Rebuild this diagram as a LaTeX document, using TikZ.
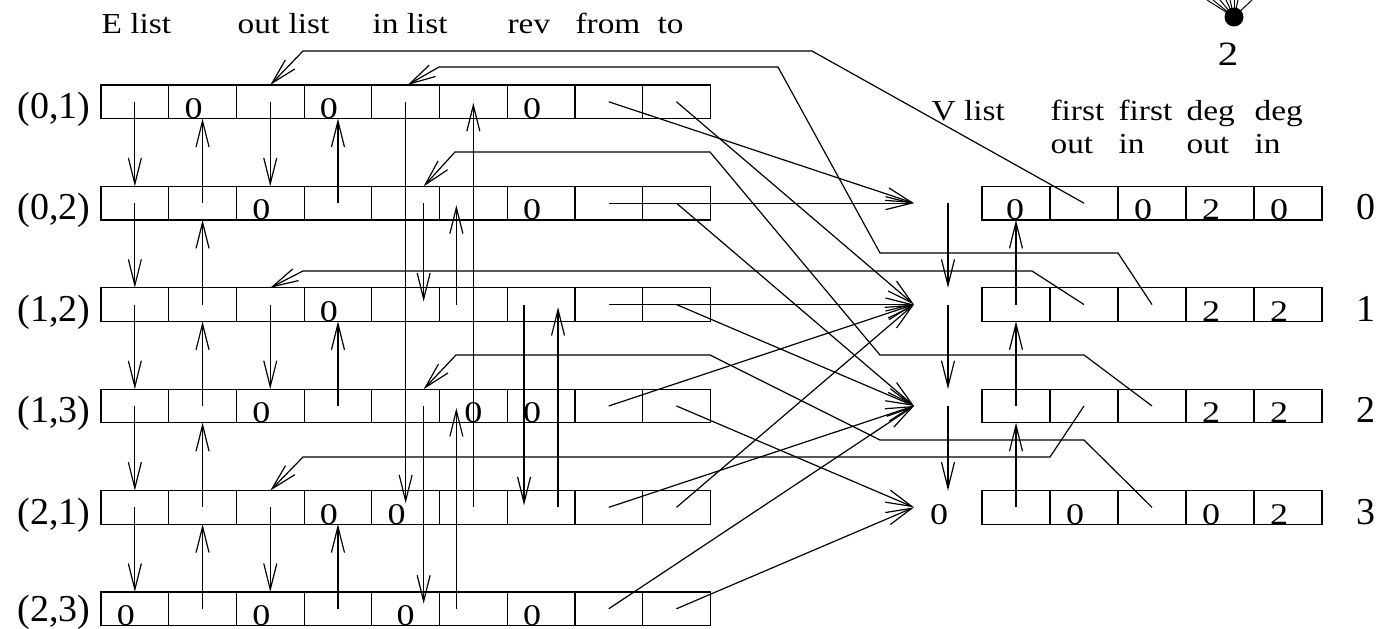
\documentclass[tikz,border=0pt]{standalone}
\usepackage{fontspec}
\setmainfont{Liberation Serif}
\newfontfamily\hdfam{Liberation Serif}[FakeStretch=1.15]
\newfontfamily\dgfam{Liberation Serif}[FakeStretch=1.2]
\usetikzlibrary{arrows.meta}
\newcommand\myhd{\hdfam\fontsize{29}{33}\selectfont}
\newcommand\mydg{\dgfam\fontsize{30}{34}\selectfont}
\newcommand\mybig{\dgfam\fontsize{34}{38}\selectfont}
\newcommand\mylb{\fontsize{38}{42}\selectfont}
\tikzset{
 cell/.style={draw, minimum width=67.7pt, minimum height=33.5pt, inner sep=0pt, outer sep=0pt},
 vcell/.style={draw, minimum width=68pt, minimum height=33.5pt, inner sep=0pt, outer sep=0pt},
 ghost/.style={minimum width=68pt, minimum height=33.5pt, inner sep=0pt, outer sep=0pt},
 ptr/.style={-{Straight Barb[length=26pt,width=13pt]}},
 dig/.style={font=\mydg, anchor=base, inner sep=0pt, xshift=-9pt},
 hdr/.style={font=\myhd, anchor=base west, inner sep=0pt},
 lab/.style={font=\mylb, anchor=base east, inner sep=0pt},
 rlab/.style={font=\mylb, anchor=base, inner sep=0pt}
}
\begin{document}
\begin{tikzpicture}[x=1pt,y=-1pt,line width=1.2pt]
\useasboundingbox (0,0) rectangle (1379,629);
% headers
\node[hdr] (hE) at (101,34) {E list};
\node[hdr] (hO) at (237,34) {out list};
\node[hdr] (hI) at (372,34) {in list};
\node[hdr] (hR) at (507,34) {rev};
\node[hdr] (hF) at (575,34) {from};
\node[hdr] (hT) at (657,34) {to};
\node[hdr] (hV) at (931,120) {V list};
\node[hdr] (hfo) at (1050,120) {first};
\node[hdr] (hfo2) at (1050,153) {out};
\node[hdr] (hfi) at (1118,120) {first};
\node[hdr] (hfi2) at (1118,153) {in};
\node[hdr] (hdo) at (1186,120) {deg};
\node[hdr] (hdo2) at (1186,153) {out};
\node[hdr] (hdi) at (1254,120) {deg};
\node[hdr] (hdi2) at (1254,153) {in};
% E list cells
\foreach \r in {0,...,5}
  \foreach \k in {0,...,8}
    \node[cell] (e\r\k) at ({134.85+67.7*\k},{101.75+101.4*\r}) {};
% row labels
\foreach \r/\t in {0/{(0,1)},1/{(0,2)},2/{(1,2)},3/{(1,3)},4/{(2,1)}}
  \node[lab] (l\r) at (91,{118.5+101.4*\r}) {\t};
\node[lab] (l5) at (91,621) {(2,3)};
% V list cells
\foreach \v in {0,...,3}{
  \node[ghost] (v\v0) at (948,{203.15+101.4*\v}) {};
  \foreach \k in {1,...,5}
    \node[vcell] (v\v\k) at ({948+68*\k},{203.15+101.4*\v}) {};
  \node[rlab] (r\v) at (1366,{219.9+101.4*\v}) {\v};
}
% digits in E cells
\foreach \c in {01,03,06,12,16,23,32,36,43,44,50,52,56}
  \node[dig] (d\c) at (e\c.south) {0};
\node[dig,xshift=9pt] (d35) at (e35.south) {0};
\node[dig,xshift=9pt] (d54) at (e54.south) {0};
% digits in V cells
\node[dig,xshift=8pt] (w01) at (v01.south) {0};
\foreach \c/\t in {03/0,04/2,05/0,14/2,15/2,24/2,25/2,30/0,32/0,34/0,35/2}
  \node[dig] (w\c) at (v\c.south) {\t};
% E list next / prev pointers
\foreach \r [evaluate=\r as \s using int(\r+1)] in {0,...,4}{
  \draw[ptr] (e\r0.center) -- (e\s0.north);
  \draw[ptr] (e\s1.center) -- (e\r1.south);
}
% out list
\draw[ptr] (e02.center) -- (e12.north);
\draw[ptr] (e22.center) -- (e32.north);
\draw[ptr] (e42.center) -- (e52.north);
\draw[ptr] (e13.center) -- (e03.south);
\draw[ptr] (e33.center) -- (e23.south);
\draw[ptr] (e53.center) -- (e43.south);
% in list
\draw[ptr] (e04.center) -- ([yshift=4pt]e44.center);
\draw[ptr] ([xshift=18pt]e14.center) -- ([xshift=18pt,yshift=3pt]e24.center);
\draw[ptr] ([xshift=18pt]e34.center) -- ([xshift=18pt,yshift=5pt]e54.center);
\draw[ptr] ([xshift=-17pt]e25.center) -- ([xshift=-17pt,yshift=-2pt]e15.center);
\draw[ptr] (e45.center) -- ([yshift=-1pt]e05.center);
\draw[ptr] ([xshift=-17pt]e55.center) -- ([xshift=-17pt,yshift=-2pt]e35.center);
% rev
\draw[ptr] ([xshift=-17pt]e26.center) -- ([xshift=-17pt,yshift=2pt]e46.center);
\draw[ptr] ([xshift=17pt]e46.center) -- ([xshift=17pt,yshift=-2.5pt]e26.center);
% from / to
\foreach \a/\b in {07/00,08/10,17/00,18/20,27/10,28/20,37/10,38/30,47/20,48/10,57/20,58/30}
  \draw[ptr] (e\a.center) -- (v\b.west);
% V list next and prev
\draw[ptr] (v00.center) -- (v10.north);
\draw[ptr] (v10.center) -- (v20.north);
\draw[ptr] (v20.center) -- (v30.north);
\draw[ptr] (v11.center) -- (v01.south);
\draw[ptr] (v21.center) -- (v11.south);
\draw[ptr] (v31.center) -- (v21.south);
% first out / first in
\draw[ptr] (v02.center) -- (812,51) -- (303,51) -- (e02.north);
\draw[ptr] (v13.center) -- (1118,253) -- (880,253) -- (778,67) -- (439,67) -- ([xshift=2pt]e04.north);
\draw[ptr] (v12.center) -- (1032,271) -- (303,271) -- (e22.north);
\draw[ptr] (v23.center) -- (1084,355) -- (880,355) -- (710,152) -- (455,152) -- ([xshift=18pt]e14.north);
\draw[ptr] (v22.center) -- (1050,457) -- (303,457) -- (e42.north);
\draw[ptr] (v33.center) -- (1084,440) -- (880,440) -- (710,355) -- (456,355) -- ([xshift=18pt]e34.north);
% fragment at top right
\node[circle, fill, inner sep=0pt, minimum size=19pt] (dot) at (1234,17) {};
\foreach \t in {1207,1213,1220,1226,1230,1234,1238,1252}
  \draw[line width=1pt] (dot.center) -- (\t,0);
\node[font=\mybig, anchor=base, inner sep=0pt] (two) at (1228,65) {2};
\end{tikzpicture}
\end{document}
